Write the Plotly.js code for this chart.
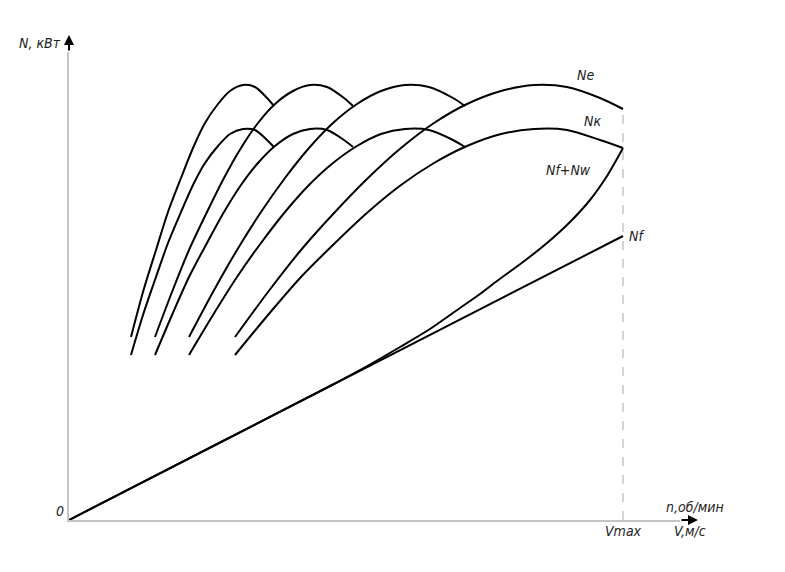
<!DOCTYPE html>
<html>
<head>
<meta charset="utf-8">
<script src="https://cdn.plot.ly/plotly-3.0.1.min.js"></script>
<style>html,body{margin:0;padding:0;background:#fff;}#chart{width:785px;height:572px;}</style>
</head>
<body>
<div id="chart"></div>
<script>
// Speeds (arbitrary chart units, V axis) and powers (arbitrary chart units, N axis)
const GEAR_NAMES = ["I", "II", "III", "IV"];
const V_GEAR1 = [62, 74, 87, 99, 112, 124, 136, 149, 161, 174, 186, 198, 205];
const V_GEAR2 = [86, 103, 120, 138, 155, 172, 189, 206, 224, 241, 258, 275, 284];
const V_GEAR3 = [120, 144, 168, 192, 216, 240, 264, 288, 312, 336, 360, 384, 396];
const V_GEAR4 = [166, 199, 232, 266, 299, 332, 365, 398, 432, 465, 498, 531, 554];

const NE_GEAR1 = [183, 228, 270, 308, 342, 372, 397, 416, 429, 435, 433, 422, 414];
const NE_GEAR2 = [183, 228, 270, 308, 342, 372, 397, 416, 429, 435, 433, 422, 414];
const NE_GEAR3 = [183, 228, 270, 308, 342, 372, 397, 416, 429, 435, 433, 422, 414];
const NE_GEAR4 = [183, 228, 270, 308, 342, 372, 397, 416, 429, 435, 433, 422, 411];

const NK_GEAR1 = [165, 205, 243, 277, 308, 335, 357, 374, 386, 391, 390, 380, 373];
const NK_GEAR2 = [165, 205, 243, 277, 308, 335, 357, 374, 386, 391, 390, 380, 373];
const NK_GEAR3 = [165, 205, 243, 277, 308, 335, 357, 374, 386, 391, 390, 380, 373];
const NK_GEAR4 = [165, 205, 243, 277, 308, 335, 357, 374, 386, 391, 390, 380, 372];

const V_NF = [0, 554];
const NF = [0, 284];

const V_NFNW = [0, 150, 261, 300, 331, 361, 391, 411, 428, 454, 478, 501, 521, 538, 554];
const NFNW = [0, 77, 134, 155, 173, 191, 212, 226, 239, 258, 277, 298, 320, 344, 372];

const VMAX = 554;
const X_RANGE = [0, 611];
const Y_RANGE = [0, 468];

const LABELS = {
  yTitle: "N, кВт", origin: "0", vmax: "Vmax", rpm: "n,об/мин", speed: "V,м/с",
  ne: "Ne", nk: "Nк", nfnw: "Nf+Nw", nf: "Nf"
};

const FONT = "'DejaVu Sans Condensed', 'Liberation Sans Narrow', 'DejaVu Sans', sans-serif";
const LINE = {color: "#000", width: 2, shape: "spline", smoothing: 0.8};

const gearsV = [V_GEAR1, V_GEAR2, V_GEAR3, V_GEAR4];
const gearsNe = [NE_GEAR1, NE_GEAR2, NE_GEAR3, NE_GEAR4];
const gearsNk = [NK_GEAR1, NK_GEAR2, NK_GEAR3, NK_GEAR4];

const traces = [];
gearsV.forEach((v, i) => {
  traces.push({x: v, y: gearsNe[i], mode: "lines", line: LINE, cliponaxis: false, name: "Ne " + GEAR_NAMES[i], hoverinfo: "skip"});
  traces.push({x: v, y: gearsNk[i], mode: "lines", line: LINE, cliponaxis: false, name: "Nk " + GEAR_NAMES[i], hoverinfo: "skip"});
});
traces.push({x: V_NFNW, y: NFNW, mode: "lines", line: LINE, cliponaxis: false, name: "Nf+Nw", hoverinfo: "skip"});
traces.push({x: V_NF, y: NF, mode: "lines", line: {color: "#000", width: 2}, cliponaxis: false, name: "Nf", hoverinfo: "skip"});

// convert chart units to paper fractions (for items outside the axis ranges)
const px = v => (v - X_RANGE[0]) / (X_RANGE[1] - X_RANGE[0]);
const py = v => (v - Y_RANGE[0]) / (Y_RANGE[1] - Y_RANGE[0]);

const txt = (text, x, y, opts) => Object.assign({
  text: "<i>" + text + "</i>", x: px(x), y: py(y), xref: "paper", yref: "paper", showarrow: false,
  yanchor: "middle", font: {family: FONT, size: 14, color: "#222"}
}, opts || {});

const annotations = [
  txt(LABELS.yTitle, -6, 477, {xanchor: "right"}),
  txt(LABELS.origin, -3, 9, {xanchor: "right"}),
  txt(LABELS.vmax, VMAX, -11, {xanchor: "center"}),
  txt(LABELS.rpm, 626, 13, {xanchor: "center"}),
  txt(LABELS.speed, 621, -11, {xanchor: "center"}),
  txt(LABELS.ne, VMAX - 38, 445, {xanchor: "center"}),
  txt(LABELS.nk, VMAX - 31, 399, {xanchor: "center"}),
  txt(LABELS.nfnw, VMAX - 55, 350, {xanchor: "center"}),
  txt(LABELS.nf, VMAX + 4, NF[NF.length - 1], {xanchor: "left"}),
  // axis arrows
  {x: px(629), y: py(0), xref: "paper", yref: "paper", ax: -18, ay: 0, text: "", showarrow: true,
   arrowhead: 2, arrowsize: 1, arrowwidth: 2, arrowcolor: "#000"},
  {x: px(0), y: py(485), xref: "paper", yref: "paper", ax: 0, ay: 17, text: "", showarrow: true,
   arrowhead: 2, arrowsize: 1, arrowwidth: 2, arrowcolor: "#000"}
];

const shapes = [
  {type: "line", xref: "x", yref: "y", x0: VMAX, x1: VMAX, y0: 0, y1: NE_GEAR4[NE_GEAR4.length - 1],
   line: {color: "#d4d4d4", width: 2, dash: "dash"}, layer: "below"}
];

const axisCommon = {showgrid: false, zeroline: false, showticklabels: false, ticks: "",
  showline: true, linecolor: "#c4c4c4", linewidth: 2, fixedrange: true};

const layout = {
  width: 785, height: 572,
  margin: {l: 69, r: 105, t: 52, b: 52},
  paper_bgcolor: "#fff", plot_bgcolor: "#fff",
  showlegend: false,
  xaxis: Object.assign({range: X_RANGE}, axisCommon),
  yaxis: Object.assign({range: Y_RANGE}, axisCommon),
  annotations: annotations,
  shapes: shapes
};

Plotly.newPlot("chart", traces, layout, {displayModeBar: false, staticPlot: true});
</script>
</body>
</html>
